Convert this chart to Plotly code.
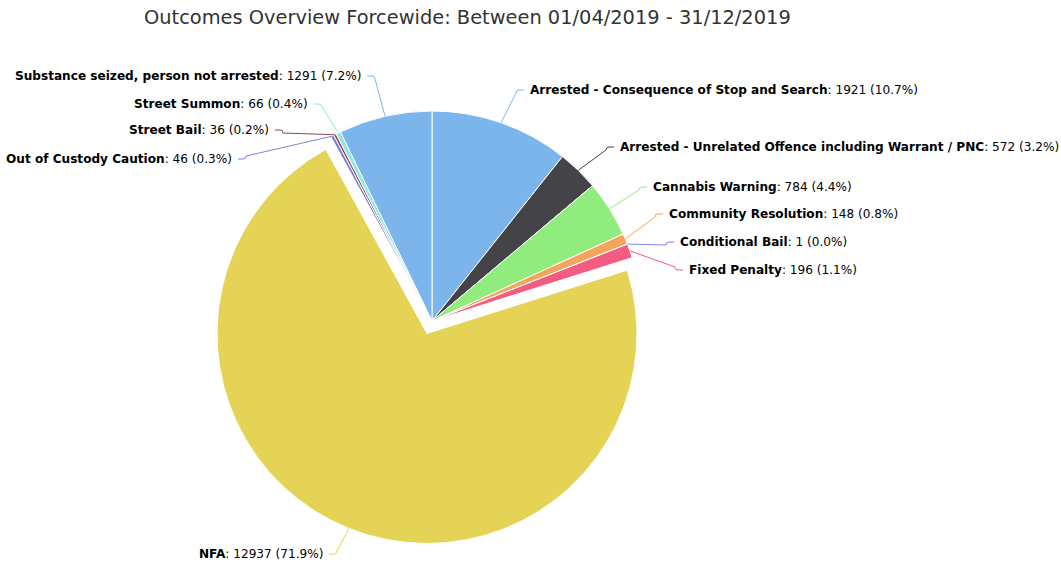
import math
import plotly.graph_objects as go

# ---------------- data ----------------
labels = [
    "Arrested - Consequence of Stop and Search",
    "Arrested - Unrelated Offence including Warrant / PNC",
    "Cannabis Warning",
    "Community Resolution",
    "Conditional Bail",
    "Fixed Penalty",
    "NFA",
    "Out of Custody Caution",
    "Street Bail",
    "Street Summon",
    "Substance seized, person not arrested",
]
values = [1921, 572, 784, 148, 1, 196, 12937, 46, 36, 66, 1291]

# ---------------- styles / layout ----------------
colors = ["#7cb5ec", "#434348", "#90ed7d", "#f7a35c", "#8085e9", "#f15c80",
          "#e4d354", "#7f80dc", "#8d4653", "#91e8e1", "#7cb5ec"]
pulls = [0, 0, 0, 0, 0, 0, 0.064, 0, 0, 0, 0]

# label anchor positions in pixels (x = text edge nearest the pie, y = middle)
label_px = [(528, 90), (618, 147), (651, 187), (667, 214), (678, 242), (687, 270),
            (325, 554), (234, 159), (271, 130), (310, 104), (363, 76)]
label_side = [1, 1, 1, 1, 1, 1, -1, -1, -1, -1, -1]  # 1: right of pie, -1: left

W, H = 1061, 564
CX, CY, R = 432, 321, 210
MAXPULL = max(pulls)

half = R * (1 + MAXPULL)
dom_x = [(CX - half) / W, (CX + half) / W]
dom_y = [1 - (CY + half) / H, 1 - (CY - half) / H]

total = sum(values)

fig = go.Figure()
fig.add_trace(go.Pie(
    labels=labels, values=values, sort=False, direction="clockwise", rotation=0,
    pull=pulls, textinfo="none", hoverinfo="label+value+percent",
    marker=dict(colors=colors, line=dict(color="#ffffff", width=1)),
    domain=dict(x=dom_x, y=dom_y), showlegend=False,
))

def px2paper(x, y):
    return x / W, 1 - y / H

shapes = []
annotations = []
cum = 0
for i, (lab, v) in enumerate(zip(labels, values)):
    mid = (cum + v / 2) / total * 2 * math.pi
    cum += v
    off = pulls[i] * R
    ex = CX + (R + off) * math.sin(mid)
    ey = CY - (R + off) * math.cos(mid)
    lx, ly = label_px[i]
    s = label_side[i]
    bx, by = lx - s * 12, ly
    tx, ty = lx - s * 4, ly
    p = [px2paper(ex, ey), px2paper(bx, by + (3 if ey > ly else -3)), px2paper(bx + s * 3, by), px2paper(tx, ty)]
    path = "M {:.5f},{:.5f} L {:.5f},{:.5f} Q {:.5f},{:.5f} {:.5f},{:.5f} L {:.5f},{:.5f}".format(
        p[0][0], p[0][1], p[1][0], p[1][1], px2paper(bx, by)[0], px2paper(bx, by)[1],
        p[2][0], p[2][1], p[3][0], p[3][1])
    shapes.append(dict(type="path", xref="paper", yref="paper", path=path,
                       line=dict(color=colors[i], width=1)))
    pct = v / total * 100
    text = "<b>{}</b>: {} ({:.1f}%)".format(lab, v, pct)
    ax, ay = px2paper(lx, ly)
    annotations.append(dict(
        x=ax, y=ay, xref="paper", yref="paper", text=text, showarrow=False,
        xanchor="left" if s == 1 else "right", yanchor="middle",
        font=dict(family="DejaVu Sans", size=12.1, color="#000000"),
    ))

annotations.append(dict(
    x=467 / W, y=1 - 18 / H, xref="paper", yref="paper", showarrow=False,
    text="Outcomes Overview Forcewide: Between 01/04/2019 - 31/12/2019",
    xanchor="center", yanchor="middle",
    font=dict(family="DejaVu Sans", size=19.4, color="#333333"),
))

fig.update_layout(
    width=W, height=H, margin=dict(l=0, r=0, t=0, b=0),
    paper_bgcolor="#ffffff", plot_bgcolor="#ffffff",
    shapes=shapes, annotations=annotations,
)

fig.write_html("out.html", config={"displayModeBar": False},
               post_script="document.body.style.margin='0';")
